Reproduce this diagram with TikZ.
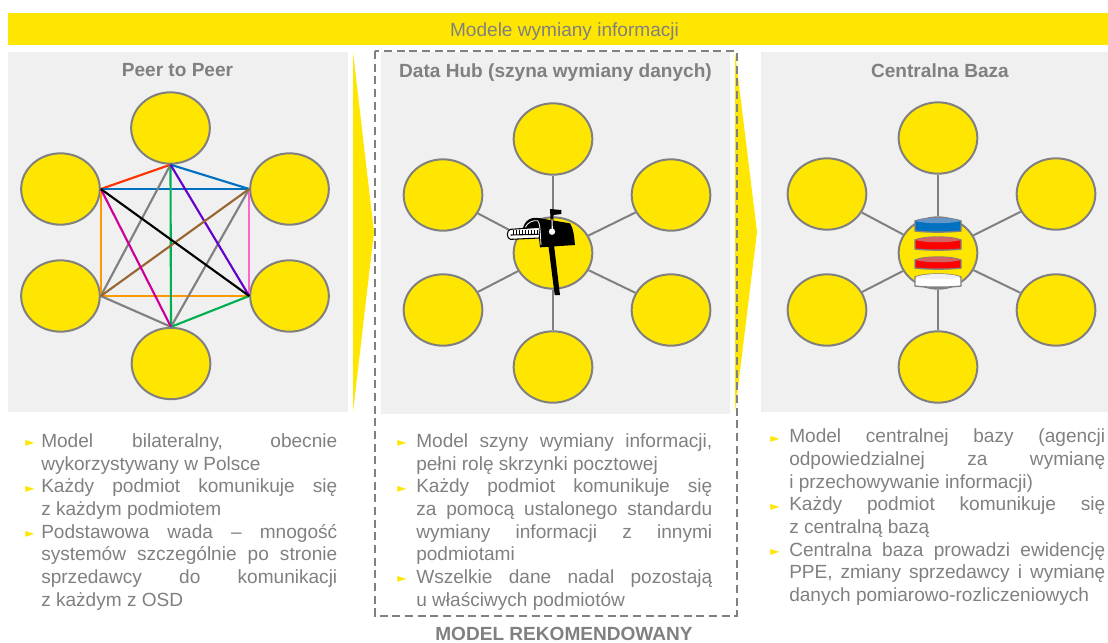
\documentclass[tikz,border=0pt]{standalone}
\usepackage{fontspec}
\setmainfont{Liberation Sans}
\newfontfamily\symbolfont{DejaVu Sans}
\usetikzlibrary{shapes.geometric}

\definecolor{barfill}{RGB}{255,230,0}
\definecolor{panelfill}{RGB}{240,240,240}
\definecolor{labelgray}{RGB}{128,128,128}
\definecolor{diskblue}{RGB}{0,112,192}
\definecolor{diskbluelid}{RGB}{100,150,200}
\definecolor{diskredlid}{RGB}{210,100,100}

\newcommand{\punkt}[1][12pt]{\par\hangindent=#1\hangafter=1\noindent\makebox[#1][l]{\textcolor{barfill}{\symbolfont\fontsize{9}{9}\selectfont\raisebox{0.5pt}{►}}}\ignorespaces}
% one layer of the database stack: top, bottom, body colour, lid colour
\newcommand{\warstwa}[4]{%
  \draw[labelgray, line width=1pt, fill=#3] (915,#1+3) -- (915,#2-1) .. controls (925,#2+0.5) and (951,#2+0.5) .. (961,#2-1) -- (961,#1+3) .. controls (951,#1-1) and (925,#1-1) .. (915,#1+3) -- cycle;
  \fill[#4] (915.5,#1+3) .. controls (925,#1-1) and (951,#1-1) .. (960.5,#1+3) .. controls (951,#1+6) and (925,#1+6) .. (915.5,#1+3) -- cycle;
}

\tikzset{
  panel/.style={fill=panelfill, draw=none},
  peer/.style={ellipse, fill=barfill, draw=labelgray, line width=1.5pt, minimum width=59pt, minimum height=53.5pt, inner sep=0pt},
  spoke/.style={draw=labelgray, line width=1.5pt},
  link/.style={line width=1.6pt},
  header/.style={font=\bfseries\fontsize{14.3}{16}\selectfont, text=labelgray},
  bullets/.style={anchor=north west, inner sep=0pt, text=labelgray, align=justify, font=\fontsize{14.3}{17}\selectfont}
}

\begin{document}
\begin{tikzpicture}[x=0.75pt, y=-0.75pt]
  \useasboundingbox (0,0) rectangle (1108,643);

  % --- Top bar ---
  \fill[barfill] (8,13) rectangle (1108,45);
  \node[text=labelgray, font=\fontsize{14.3}{16}\selectfont] (barTitle) at (564.5,31.5) {Modele wymiany informacji};

  % chevrons between panels
  \fill[barfill] (353,52) -- (374,232) -- (353,412) -- cycle;
  \fill[barfill] (735,52) -- (757,232) -- (735,412) -- cycle;

  % --- Left panel: Peer to Peer ---
  \fill[panel] (8,52) rectangle (348,412);
  \node[header] (p2pTitle) at (177.5,70.5) {Peer to Peer};

  \node[peer] (p2pTop) at (170.5,128) {};
  \node[peer] (p2pUL) at (60.5,189) {};
  \node[peer] (p2pUR) at (289.5,189) {};
  \node[peer] (p2pLL) at (60.5,296) {};
  \node[peer] (p2pLR) at (289.5,296) {};
  \node[peer] (p2pBot) at (171,363.5) {};

  % all pairs
  \draw[link, color={rgb,255:red,255;green,51;blue,0}] (p2pTop.south) -- (p2pUL.east);
  \draw[link, color={rgb,255:red,0;green,112;blue,192}] (p2pTop.south) -- (p2pUR.west);
  \draw[link, color={rgb,255:red,0;green,112;blue,192}] (p2pUL.east) -- (p2pUR.west);
  \draw[link, color={rgb,255:red,255;green,153;blue,0}] (p2pUL.east) -- (p2pLL.east);
  \draw[link, color={rgb,255:red,255;green,102;blue,204}] (p2pUR.west) -- (p2pLR.west);
  \draw[link, color={rgb,255:red,255;green,153;blue,0}] (p2pLL.east) -- (p2pLR.west);
  \draw[link, color=labelgray] (p2pTop.south) -- (p2pLL.east);
  \draw[link, color=labelgray] (p2pUR.west) -- (p2pBot.north);
  \draw[link, color=labelgray] (p2pLL.east) -- (p2pBot.north);
  \draw[link, color={rgb,255:red,0;green,176;blue,80}] (p2pTop.south) -- (p2pBot.north);
  \draw[link, color={rgb,255:red,0;green,176;blue,80}] (p2pLR.west) -- (p2pBot.north);
  \draw[link, color={rgb,255:red,102;green,0;blue,204}] (p2pTop.south) -- (p2pLR.west);
  \draw[link, color={rgb,255:red,153;green,102;blue,51}] (p2pUR.west) -- (p2pLL.east);
  \draw[link, color={rgb,255:red,204;green,0;blue,153}] (p2pUL.east) -- (p2pBot.north);
  \draw[link, color=black] (p2pUL.east) -- (p2pLR.west);

  \node[bullets, text width=234pt] (p2pText) at (25,424.5) {%
    \punkt Model bilateralny, obecnie\linebreak wykorzystywany w Polsce
    \punkt Każdy podmiot komunikuje się\linebreak z każdym podmiotem
    \punkt Podstawowa wada – mnogość\linebreak systemów szczególnie po stronie\linebreak sprzedawcy do komunikacji\linebreak z każdym z OSD\par};

  % --- Middle panel: Data Hub ---
  \fill[panel] (381,52) rectangle (730,414);
  \node[header] (hubTitle) at (555.5,72.5) {Data Hub (szyna wymiany danych)};

  \node[peer] (hubTop) at (553,139) {};
  \node[peer] (hubUL) at (443,195) {};
  \node[peer] (hubUR) at (671,195) {};
  \node[peer] (hubMid) at (553,253) {};
  \node[peer] (hubLL) at (443,310) {};
  \node[peer] (hubLR) at (671,310) {};
  \node[peer] (hubBot) at (553,367) {};

  \draw[spoke] (hubMid) -- (hubTop);
  \draw[spoke] (hubMid) -- (hubUL);
  \draw[spoke] (hubMid) -- (hubUR);
  \draw[spoke] (hubMid) -- (hubLL);
  \draw[spoke] (hubMid) -- (hubLR);
  \draw[spoke] (hubMid) -- (hubBot);

  % mailbox
  \begin{scope}[shift={(490,190)}, x=0.25pt, y=-0.25pt]
    % post
    \fill[black] (175,165) -- (192,165) -- (210,315) -- (194,315) -- cycle;
    % flag
    \fill[black] (180,57) -- (214,60) -- (214,72) -- (190,75) -- (190,115) -- (183,115) -- cycle;
    % box
    \fill[black] (97,130) .. controls (98,98) and (115,80) .. (145,84) -- (240,100) .. controls (250,115) and (252,135) .. (255,165) -- (150,172) -- (146,135) -- cycle;
    % rolled paper
    \draw[fill=white, line width=0.8pt] (62,118) -- (148,112) -- (148,144) -- (62,148) arc (270:90:2.5pt and 3.75pt);
    \foreach \tick in {70,79,...,142} {
      \draw[line width=0.5pt] (\tick,120) -- (\tick,134);
    }
    \draw[line width=0.8pt] (62,135) -- (146,133);
    % rim of the box
    \draw[white, line width=0.6pt] (106,112) .. controls (112,98) and (128,90) .. (143,92) .. controls (150,100) and (150,115) .. (153,165);
    \draw[white, line width=0.8pt] (186,88) -- (187,120);
    \fill[white] (186,125) circle (2.4pt);
  \end{scope}

  \node[bullets, text width=236.25pt] (hubText) at (397,424.5) {%
    \punkt[14.25pt] Model szyny wymiany informacji,\linebreak pełni rolę skrzynki pocztowej
    \punkt[14.25pt] Każdy podmiot komunikuje się\linebreak za pomocą ustalonego standardu\linebreak wymiany informacji z innymi\linebreak podmiotami
    \punkt[14.25pt] Wszelkie dane nadal pozostają\linebreak u właściwych podmiotów\par};

  % recommended frame
  \draw[labelgray, line width=1.5pt, dash pattern=on 6pt off 3.5pt] (374.5,51) rectangle (736.5,616);
  \node[header] (hubNote) at (564,634) {MODEL REKOMENDOWANY};

  % --- Right panel: Centralna Baza ---
  \fill[panel] (761,52) rectangle (1108,412);
  \node[header] (baseTitle) at (940,70.5) {Centralna Baza};

  \node[peer] (baseTop) at (938,138) {};
  \node[peer] (baseUL) at (827,194) {};
  \node[peer] (baseUR) at (1056,194) {};
  \node[peer] (baseMid) at (938,253) {};
  \node[peer] (baseLL) at (827,310) {};
  \node[peer] (baseLR) at (1056,310) {};
  \node[peer] (baseBot) at (938,367) {};

  \draw[spoke] (baseMid) -- (baseTop);
  \draw[spoke] (baseMid) -- (baseUL);
  \draw[spoke] (baseMid) -- (baseUR);
  \draw[spoke] (baseMid) -- (baseLL);
  \draw[spoke] (baseMid) -- (baseLR);
  \draw[spoke] (baseMid) -- (baseBot);

  % database stack
  \warstwa{218}{232}{diskblue}{diskbluelid}
  \warstwa{237}{250}{red}{diskredlid}
  \warstwa{257}{269}{red}{diskredlid}
  \warstwa{274}{287}{white}{panelfill}

  \node[bullets, text width=251.25pt] (baseText) at (770,420) {%
    \punkt[14.25pt] Model centralnej bazy (agencji\linebreak odpowiedzialnej za wymianę\linebreak i przechowywanie informacji)
    \punkt[14.25pt] Każdy podmiot komunikuje się\linebreak z centralną bazą
    \punkt[14.25pt] Centralna baza prowadzi ewidencję\linebreak PPE, zmiany sprzedawcy i wymianę\linebreak danych pomiarowo-rozliczeniowych\par};

\end{tikzpicture}
\end{document}
